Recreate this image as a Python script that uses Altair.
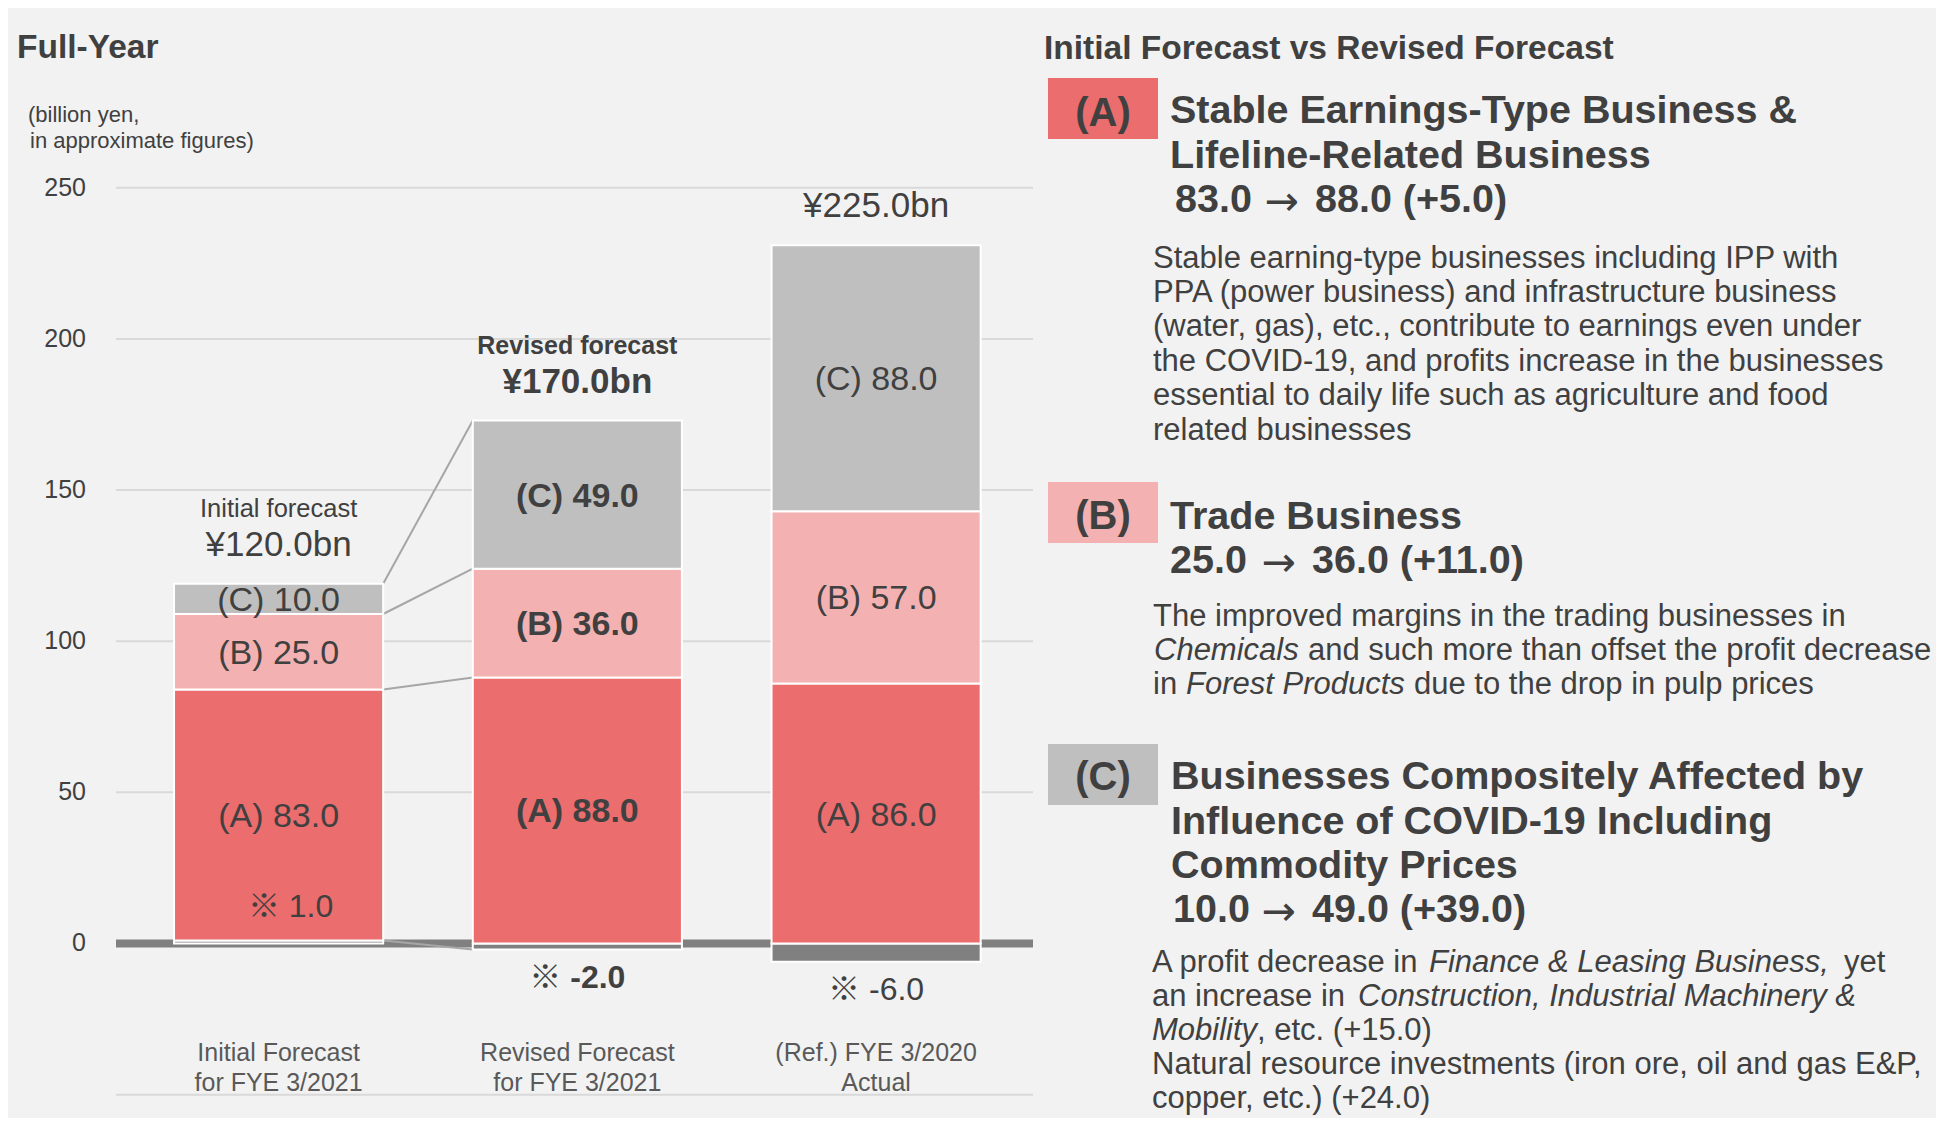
import altair as alt
import pandas as pd

# ---------------- data ----------------
cat_keys = ["initial", "revised", "actual"]
cat_line1 = ["Initial Forecast", "Revised Forecast", "(Ref.) FYE 3/2020"]
cat_line2 = ["for FYE 3/2021", "for FYE 3/2021", "Actual"]
seg_a = [83.0, 88.0, 86.0]
seg_b = [25.0, 36.0, 57.0]
seg_c = [10.0, 49.0, 88.0]
seg_other = [1.0, -2.0, -6.0]
totals = [120.0, 170.0, 225.0]
total_captions = ["Initial forecast", "Revised forecast", ""]
y_ticks = [0, 50, 100, 150, 200, 250]
grid_values = [-50, 50, 100, 150, 200, 250]

# ---------------- style ----------------
FONT = "Liberation Sans, Arial, Noto Sans CJK JP, sans-serif"
ARROW_FONT = "DejaVu Sans, Liberation Sans, sans-serif"
TXT = "#404040"
CAT_TXT = "#595959"
COL_A, COL_B, COL_C, COL_O = "#EB6D6D", "#F4B1B1", "#BFBFBF", "#808080"
W, H = 1928, 1110
HW = 0.35  # half bar width in category units
XS = alt.Scale(domain=[-0.9058, 5.5478], nice=False, zero=False)
YS = alt.Scale(domain=[-57.73, 309.48], nice=False, zero=False)

# ---------------- tables built from the arrays ----------------
rows = []
for i, k in enumerate(cat_keys):
    o = seg_other[i]
    rows.append(dict(cat=k, idx=i, seg="other", lo=min(o, 0.0), hi=max(o, 0.0), val=o,
                     label=f"※ {o:.1f}"))
    cum = max(o, 0.0)
    for s, arr in (("A", seg_a), ("B", seg_b), ("C", seg_c)):
        v = arr[i]
        rows.append(dict(cat=k, idx=i, seg=s, lo=cum, hi=cum + v, val=v,
                         label=f"({s}) {v:.1f}"))
        cum += v
segs = pd.DataFrame(rows)
segs["mid"] = (segs["lo"] + segs["hi"]) / 2

tops = segs[segs.seg != "other"].groupby("idx")["hi"].max()
tot = pd.DataFrame({
    "idx": list(range(len(cat_keys))),
    "cat": cat_keys,
    "top": [tops[i] for i in range(len(cat_keys))],
    "tlabel": [f"¥{t:.1f}bn" for t in totals],
    "caption": total_captions,
    "l1": cat_line1,
    "l2": cat_line2,
})


def levels(i):
    sub = segs[segs.idx == i]
    return [sub[sub.seg == "other"]["val"].iloc[0]] + list(sub[sub.seg != "other"]["hi"])


conn = pd.DataFrame({"x0": 0, "x1": 1, "y0": levels(0), "y1": levels(1)})
grid = pd.DataFrame({"v": grid_values})
ticks = pd.DataFrame({"v": y_ticks})
zero = pd.DataFrame({"v": [0]})

# ---------------- chart layers ----------------
gridlines = alt.Chart(grid).mark_rule(color="#D9D9D9", strokeWidth=2).encode(
    y=alt.Y("v:Q", scale=YS, axis=None), x=alt.value(108), x2=alt.value(1025))

zero_band = alt.Chart(zero).mark_rule(color=COL_O, strokeWidth=8).encode(
    y=alt.Y("v:Q", scale=YS, axis=None), x=alt.value(108), x2=alt.value(1025))

connectors = alt.Chart(conn).transform_calculate(
    xa=f"datum.x0 + {HW}", xb=f"datum.x1 - {HW}"
).mark_rule(color="#A6A6A6", strokeWidth=2).encode(
    x=alt.X("xa:Q", scale=XS, axis=None), x2="xb:Q",
    y=alt.Y("y0:Q", scale=YS, axis=None), y2="y1:Q")

bars = alt.Chart(segs).transform_calculate(
    xlo=f"datum.idx - {HW}", xhi=f"datum.idx + {HW}"
).mark_rect(stroke="white", strokeWidth=2).encode(
    x=alt.X("xlo:Q", scale=XS, axis=None), x2="xhi:Q",
    y=alt.Y("lo:Q", scale=YS, axis=None), y2="hi:Q",
    color=alt.Color("seg:N", scale=alt.Scale(domain=["other", "A", "B", "C"],
                                             range=[COL_O, COL_A, COL_B, COL_C]), legend=None))


def seg_text(filt, weight, ycol, dy=0, dx=0, size=34):
    return alt.Chart(segs).transform_filter(filt).mark_text(
        font=FONT, fontSize=size, fontWeight=weight, color=TXT, baseline="alphabetic",
        dy=dy, dx=dx
    ).encode(x=alt.X("idx:Q", scale=XS, axis=None),
             y=alt.Y(f"{ycol}:Q", scale=YS, axis=None), text="label:N")


lab_norm = seg_text("datum.seg != 'other' && datum.cat != 'revised'", "normal", "mid", dy=12)
lab_bold = seg_text("datum.seg != 'other' && datum.cat == 'revised'", "bold", "mid", dy=12)
oth_pos = seg_text("datum.seg == 'other' && datum.val > 0", "normal", "lo", dy=-26, dx=12, size=32)
oth_neg = seg_text("datum.seg == 'other' && datum.val < 0 && datum.cat != 'revised'", "normal", "lo", dy=38, size=32)
oth_negb = seg_text("datum.seg == 'other' && datum.val < 0 && datum.cat == 'revised'", "bold", "lo", dy=38, size=32)


def tot_text(filt, weight, field, dy, size):
    return alt.Chart(tot).transform_filter(filt).mark_text(
        font=FONT, fontSize=size, fontWeight=weight, color=TXT, baseline="alphabetic", dy=dy
    ).encode(x=alt.X("idx:Q", scale=XS, axis=None),
             y=alt.Y("top:Q", scale=YS, axis=None), text=f"{field}:N")


tot_norm = tot_text("datum.cat != 'revised'", "normal", "tlabel", -28, 35)
tot_bold = tot_text("datum.cat == 'revised'", "bold", "tlabel", -28, 35)
cap_norm = tot_text("datum.cat != 'revised' && datum.caption != ''", "normal", "caption", -67, 25.5)
cap_bold = tot_text("datum.cat == 'revised'", "bold", "caption", -67, 25)

ytick_labels = alt.Chart(ticks).mark_text(
    font=FONT, fontSize=25, color=TXT, align="right", baseline="middle"
).encode(y=alt.Y("v:Q", scale=YS, axis=None), x=alt.value(78), text="v:N")

cat_l1 = alt.Chart(tot).mark_text(font=FONT, fontSize=25, color=CAT_TXT, baseline="alphabetic").encode(
    x=alt.X("idx:Q", scale=XS, axis=None), y=alt.value(1053), text="l1:N")
cat_l2 = alt.Chart(tot).mark_text(font=FONT, fontSize=25, color=CAT_TXT, baseline="alphabetic").encode(
    x=alt.X("idx:Q", scale=XS, axis=None), y=alt.value(1083), text="l2:N")


# ---------------- annotation text (titles and right-hand panel) ----------------
def ann(items, size, weight="normal", style="normal", align="left", color=TXT, font=FONT, dy=0):
    df = pd.DataFrame(items, columns=["t", "px", "py"])
    return alt.Chart(df).mark_text(
        font=font, fontSize=size, fontWeight=weight, fontStyle=style, align=align,
        baseline="alphabetic", color=color, dy=dy
    ).encode(x=alt.X("px:Q", scale=None, axis=None),
             y=alt.Y("py:Q", scale=None, axis=None), text="t:N")


def box(x0, x1, y0, y1, color):
    df = pd.DataFrame({"a": [x0], "b": [x1], "c": [y0], "d": [y1]})
    return alt.Chart(df).mark_rect(color=color).encode(
        x=alt.X("a:Q", scale=None, axis=None), x2="b:Q",
        y=alt.Y("c:Q", scale=None, axis=None), y2="d:Q")


titles = ann([("Full-Year", 9, 50), ("Initial Forecast vs Revised Forecast", 1036, 51)], 33.5, "bold")
unit_note = ann([("(billion yen,", 20, 114), (" in approximate figures)", 22, 140)], 22)

boxes = [box(1040, 1150, 70, 131, COL_A), box(1040, 1150, 474, 535, COL_B),
         box(1040, 1150, 736, 797, COL_C)]
box_labels = ann([("(A)", 1095, 118), ("(B)", 1095, 521), ("(C)", 1095, 782)], 40, "bold", align="center")

headings = ann([
    ("Stable Earnings-Type Business &", 1162, 115),
    ("Lifeline-Related Business", 1162, 160),
    ("83.0", 1167, 204),
    ("88.0 (+5.0)", 1307, 204),
    ("Trade Business", 1162, 521),
    ("25.0", 1162, 565),
    ("36.0 (+11.0)", 1304, 565),
    ("Businesses Compositely Affected by", 1163, 781),
    ("Influence of COVID-19 Including", 1163, 826),
    ("Commodity Prices", 1163, 870),
    ("10.0", 1165, 914),
    ("49.0 (+39.0)", 1304, 914),
], 39.5, "bold")

arrows = ann([("→", 1274, 204), ("→", 1271, 565), ("→", 1271, 914)], 41, align="center",
             font=ARROW_FONT, dy=3)

body = ann([
    ("Stable earning-type businesses including IPP with", 1145, 260),
    ("PPA (power business) and infrastructure business", 1145, 294),
    ("(water, gas), etc., contribute to earnings even under", 1145, 328),
    ("the COVID-19, and profits increase in the businesses", 1145, 363),
    ("essential to daily life such as agriculture and food", 1145, 397),
    ("related businesses", 1145, 432),
    ("The improved margins in the trading businesses in", 1145, 618),
    ("and such more than offset the profit decrease", 1300, 652),
    ("in", 1145, 686),
    ("due to the drop in pulp prices", 1406, 686),
    ("A profit decrease in", 1144, 964),
    ("yet", 1836, 964),
    ("an increase in", 1144, 998),
    (", etc. (+15.0)", 1249, 1032),
    ("Natural resource investments (iron ore, oil and gas E&P,", 1144, 1066),
    ("copper, etc.) (+24.0)", 1144, 1100),
], 31)

body_it = ann([
    ("Chemicals", 1146, 652),
    ("Forest Products", 1178, 686),
    ("Finance & Leasing Business,", 1421, 964),
    ("Construction, Industrial Machinery &", 1350, 998),
    ("Mobility", 1144, 1032),
], 31, style="italic")

chart = alt.layer(
    gridlines, zero_band, connectors, bars,
    lab_norm, lab_bold, oth_pos, oth_neg, oth_negb,
    tot_norm, tot_bold, cap_norm, cap_bold,
    ytick_labels, cat_l1, cat_l2,
    titles, unit_note, *boxes, box_labels, headings, arrows, body, body_it,
).resolve_scale(x="independent", y="independent").properties(
    width=W, height=H, background="#F2F2F2", padding=0,
    autosize=alt.AutoSizeParams(type="none"),
).configure_view(stroke=None)

chart.save("out.html", embed_options={"renderer": "svg", "actions": False})
